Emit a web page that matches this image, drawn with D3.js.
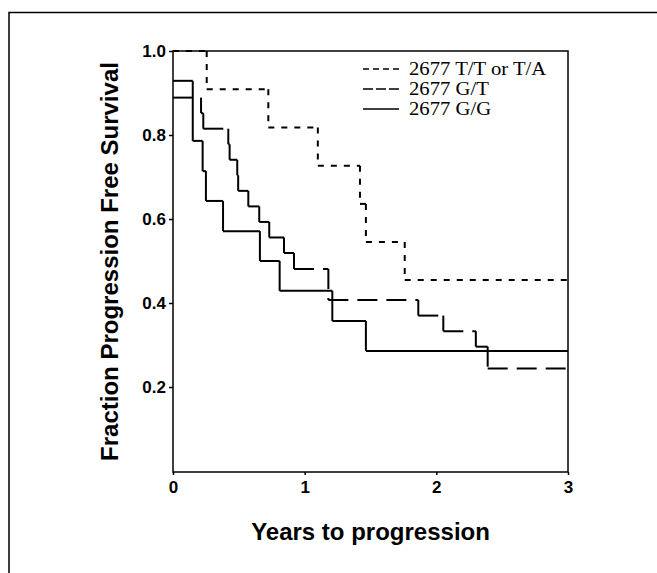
<!DOCTYPE html>
<html>
<head>
<meta charset="utf-8">
<script src="https://cdn.jsdelivr.net/npm/d3@7"></script>
<style>
  body { margin: 0; background: #fff; }
</style>
</head>
<body>
<svg width="657" height="573" id="mainsvg"></svg>
<script>
// data (Kaplan-Meier steps)
const ttTimes  = [0.256, 0.724, 1.10, 1.42, 1.465, 1.76];
const ttValues = [1.0, 0.909, 0.818, 0.727, 0.636, 0.545, 0.455];

const gtTimes  = [0.213, 0.23, 0.42, 0.43, 0.488, 0.495, 0.572, 0.655, 0.731, 0.843, 0.919, 1.18, 1.863, 2.053, 2.30, 2.39];
const gtValues = [0.889, 0.852, 0.815, 0.778, 0.741, 0.704, 0.667, 0.630, 0.593, 0.556, 0.519, 0.481, 0.407, 0.370, 0.333, 0.296, 0.244];

const ggTimes  = [0.15, 0.225, 0.25, 0.38, 0.66, 0.81, 1.21, 1.465];
const ggValues = [0.929, 0.786, 0.714, 0.643, 0.571, 0.5, 0.429, 0.357, 0.286];

const seriesNames = ["2677 T/T or T/A", "2677 G/T", "2677 G/G"];
const xTicks = [0, 1, 2, 3];
const yTicks = [0.2, 0.4, 0.6, 0.8, 1.0];
const xMax = 3;

const svg = d3.select("#mainsvg");
const margin = {top: 51, right: 89, bottom: 101, left: 173};
const width = 657, height = 573;

// outer frame (runs off the right and bottom of the picture)
svg.append("rect")
  .attr("x", 9).attr("y", 12.5)
  .attr("width", 700).attr("height", 600)
  .attr("fill", "none").attr("stroke", "#000").attr("stroke-width", 1.5);

const xScale = d3.scaleLinear().domain([0, xMax]).range([margin.left, width - margin.right]);
const yScale = d3.scaleLinear().domain([0, 1]).range([471, margin.top]);

const g = svg.append("g");

// plot box
g.append("rect")
  .attr("x", xScale(0)).attr("y", yScale(1))
  .attr("width", xScale(xMax) - xScale(0))
  .attr("height", 472 - yScale(1))
  .attr("fill", "none").attr("stroke", "#000").attr("stroke-width", 1.5);

const yAxis = d3.axisLeft(yScale).tickValues(yTicks).tickFormat(d3.format(".1f"))
  .tickSize(4).tickSizeOuter(0).tickPadding(3);
const yg = g.append("g").attr("transform", `translate(${xScale(0)},0)`).call(yAxis);
yg.select(".domain").remove();
yg.selectAll("line").attr("stroke-width", 1.5);
yg.selectAll("text")
  .attr("font-family", "Liberation Sans, Arial, sans-serif")
  .attr("font-weight", "bold").attr("font-size", 17).attr("fill", "#000");

const xAxis = d3.axisBottom(xScale).tickValues(xTicks).tickFormat(d3.format("d"))
  .tickSize(3).tickSizeOuter(0).tickPadding(6);
const xg = g.append("g").attr("transform", "translate(0,472)").call(xAxis);
xg.select(".domain").remove();
xg.selectAll("line").attr("stroke-width", 1.5);
xg.selectAll("text")
  .attr("font-family", "Liberation Sans, Arial, sans-serif")
  .attr("font-weight", "bold").attr("font-size", 17).attr("fill", "#000");

// axis titles
svg.append("text")
  .attr("x", (xScale(0) + xScale(xMax)) / 2).attr("y", 540)
  .attr("text-anchor", "middle")
  .attr("font-family", "Liberation Sans, Arial, sans-serif")
  .attr("font-weight", "bold").attr("font-size", 24)
  .text("Years to progression");

svg.append("text")
  .attr("transform", `translate(118, ${(yScale(1) + 472) / 2}) rotate(-90)`)
  .attr("text-anchor", "middle")
  .attr("font-family", "Liberation Sans, Arial, sans-serif")
  .attr("font-weight", "bold").attr("font-size", 24)
  .text("Fraction Progression Free Survival");

// step segments, each drawn on its own so the dash pattern restarts
const stepSegments = function(times, values) {
  const segs = [];
  let t0 = 0;
  times.forEach((t, i) => {
    segs.push([t0, values[i], t, values[i]]);
    segs.push([t, values[i], t, values[i + 1]]);
    t0 = t;
  });
  segs.push([t0, values[values.length - 1], xMax, values[values.length - 1]]);
  return segs;
};

const series = [
  {times: ttTimes, values: ttValues, dash: "6,7", legendDash: "6,4"},
  {times: gtTimes, values: gtValues, dash: "20,9", legendDash: "10,3"},
  {times: ggTimes, values: ggValues, dash: null, legendDash: null}
];

series.forEach(s => {
  g.append("g").selectAll("line")
    .data(stepSegments(s.times, s.values))
    .join("line")
    .attr("x1", d => xScale(d[0])).attr("y1", d => yScale(d[1]))
    .attr("x2", d => xScale(d[2])).attr("y2", d => yScale(d[3]))
    .attr("stroke", "#000").attr("stroke-width", 2)
    .attr("stroke-dasharray", s.dash);
});

// legend
const legend = svg.append("g").selectAll("g")
  .data(seriesNames)
  .join("g")
  .attr("transform", (d, i) => `translate(363, ${69 + i * 20})`);

legend.append("line")
  .attr("x1", 0).attr("x2", 36).attr("y1", 0).attr("y2", 0)
  .attr("stroke", "#000").attr("stroke-width", 1.5)
  .attr("stroke-dasharray", (d, i) => series[i].legendDash);

legend.append("text")
  .attr("transform", "translate(46, 6) scale(1.15, 1)")
  .attr("font-family", "Liberation Serif, Times New Roman, serif")
  .attr("font-size", 18)
  .text(d => d);
</script>
</body>
</html>
